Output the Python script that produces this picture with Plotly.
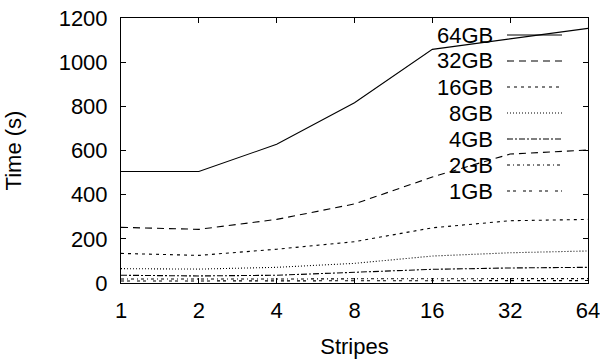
import plotly.graph_objects as go

stripes = [1, 2, 4, 8, 16, 32, 64]
t64 = [505, 505, 628, 816, 1058, 1105, 1153]
t32 = [252, 243, 288, 358, 480, 584, 602]
t16 = [134, 125, 153, 187, 250, 282, 288]
t8 = [65, 63, 71, 89, 122, 137, 145]
t4 = [35, 32, 35, 50, 62, 68, 71]
t2 = [18, 17, 18, 19, 20, 20, 20]
t1 = [9, 9, 9, 10, 10, 10, 11]

series_names = ["64GB", "32GB", "16GB", "8GB", "4GB", "2GB", "1GB"]
series_vals = [t64, t32, t16, t8, t4, t2, t1]
dashes = ["solid", "7px,5px", "3px,4px", "1px,2px", "6px,2px,2px,2px", "3px,3px,1px,3px", "3px,3px,3px,7px"]
x_ticks = [1, 2, 4, 8, 16, 32, 64]
y_ticks = [0, 200, 400, 600, 800, 1000, 1200]

FONT = "Liberation Sans, Arial, sans-serif"
FS = 22

W, H = 600, 362
L, R, T, B = 121, 12, 18, 79
pw, ph = W - L - R, H - T - B

fig = go.Figure()
for name, vals, d in zip(series_names, series_vals, dashes):
    fig.add_trace(go.Scatter(x=stripes, y=vals, mode="lines", name=name,
                             line=dict(color="black", width=1.1, dash=d),
                             showlegend=False))

# gnuplot-style key: text left, sample line right
shapes = []
annotations = []
key_top = 35
key_step = 26
for i, (name, d) in enumerate(zip(series_names, dashes)):
    py = key_top + i * key_step
    yp = (H - B - py) / ph
    annotations.append(dict(x=(495 - L) / pw, y=yp, xref="paper", yref="paper",
                            text=name, showarrow=False, xanchor="right", yanchor="middle",
                            font=dict(family=FONT, size=FS, color="black")))
    shapes.append(dict(type="line", xref="paper", yref="paper",
                       x0=(507 - L) / pw, x1=(562 - L) / pw, y0=yp, y1=yp,
                       line=dict(color="black", width=1.1, dash=d)))

axis_common = dict(showline=True, linecolor="black", linewidth=1, mirror="ticks",
                   ticks="inside", ticklen=5, tickcolor="black", tickwidth=1,
                   showgrid=False, zeroline=False, automargin=False,
                   ticklabeloverflow="allow",
                   tickfont=dict(family=FONT, size=FS, color="black"))

fig.update_layout(
    width=W, height=H,
    margin=dict(l=L, r=R, t=T, b=B, pad=0),
    paper_bgcolor="white", plot_bgcolor="white",
    shapes=shapes, annotations=annotations,
    xaxis=dict(type="log", range=[0, 1.80618], tickvals=x_ticks,
               ticktext=[str(v) for v in x_ticks], ticklabelstandoff=8,
               title=dict(text="Stripes", font=dict(family=FONT, size=FS, color="black"), standoff=16),
               **axis_common),
    yaxis=dict(range=[0, 1200], tickvals=y_ticks, ticklabelstandoff=8,
               title=dict(text="Time (s)", font=dict(family=FONT, size=FS, color="black"), standoff=30),
               **axis_common),
)

fig.write_html("out.html")
